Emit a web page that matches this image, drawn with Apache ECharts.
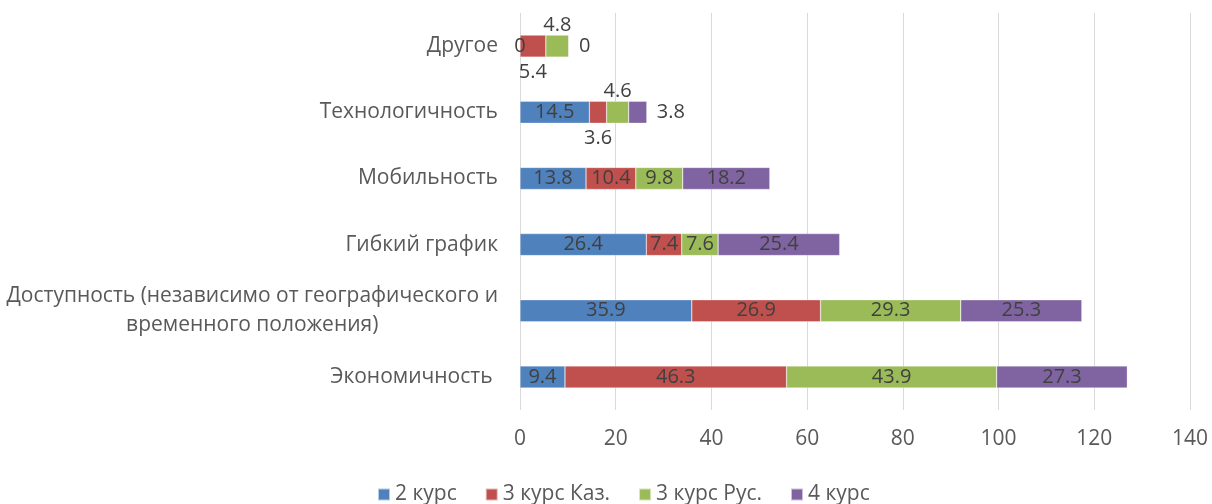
<!DOCTYPE html>
<html><head><meta charset="utf-8">
<script src="https://cdn.jsdelivr.net/npm/echarts@6/dist/echarts.min.js"></script>
<style>html,body{margin:0;padding:0;background:#fff}#c{width:1212px;height:504px}</style>
</head><body><div id="c"></div>
<script>
const categories = ['Экономичность ', 'Доступность (независимо от географического и\nвременного положения)', 'Гибкий график', 'Мобильность', 'Технологичность', 'Другое'];
const seriesNames = ['2 курс', '3 курс Каз.', '3 курс Рус.', '4 курс'];
const s2 = [9.4, 35.9, 26.4, 13.8, 14.5, 0];
const s3kaz = [46.3, 26.9, 7.4, 10.4, 3.6, 5.4];
const s3rus = [43.9, 29.3, 7.6, 9.8, 4.6, 4.8];
const s4 = [27.3, 25.3, 25.4, 18.2, 3.8, 0];
const xTicks = [0, 20, 40, 60, 80, 100, 120, 140];
const colors = ['#4F81BD', '#C0504D', '#9BBB59', '#8064A2'];
// label placement overrides (category index -> position) for small segments
const labelPos = [
  {},
  {4: 'bottom', 5: 'bottom'},
  {4: 'top', 5: 'top'},
  {4: 'right', 5: 'right'}
];
const FONT = 'Open Sans';
const FS = 21;
const allData = [s2, s3kaz, s3rus, s4];
function mk(si) {
  const pos = labelPos[si] || {};
  return {
    name: seriesNames[si], type: 'bar', stack: 'a', barWidth: 22,
    itemStyle: {color: colors[si], borderColor: 'rgba(255,255,255,0.6)', borderWidth: 0.5},
    label: {show: true, position: 'inside', color: '#404040', fontSize: 20, fontFamily: FONT},
    data: allData[si].map((v, i) => {
      const p = pos[i];
      if (!p) return v;
      const d = {top: 0, bottom: 5, right: 10}[p];
      return {value: v, label: {position: p, distance: d}};
    })
  };
}
const chart = echarts.init(document.getElementById('c'));
chart.setOption({
  animation: false,
  color: colors,
  grid: {left: 520, right: 22, top: 13, bottom: 94, containLabel: false},
  xAxis: {
    type: 'value', min: 0, max: 140, interval: 20,
    axisLine: {show: false}, axisTick: {show: false},
    splitLine: {lineStyle: {color: '#D9D9D9', width: 1}},
    axisLabel: {color: '#595959', fontSize: FS, fontFamily: FONT, margin: 19,
      formatter: v => xTicks.includes(v) ? String(v) : ''}
  },
  yAxis: {
    type: 'category', data: categories,
    axisLine: {show: false}, axisTick: {show: false},
    axisLabel: {color: '#595959', fontSize: FS, fontFamily: FONT, margin: 22, lineHeight: 29,
      formatter: v => v.split('\n').map(l => '{c|' + l + '}').join('\n'),
      rich: {c: {align: 'center', color: '#595959', fontSize: FS, fontFamily: FONT, lineHeight: 29}}}
  },
  legend: {
    top: 479, left: 372, itemWidth: 12, itemHeight: 12, itemGap: 28, icon: 'rect',
    textStyle: {color: '#595959', fontSize: FS, fontFamily: FONT}
  },
  series: [0, 1, 2, 3].map(mk)
});
</script></body></html>
